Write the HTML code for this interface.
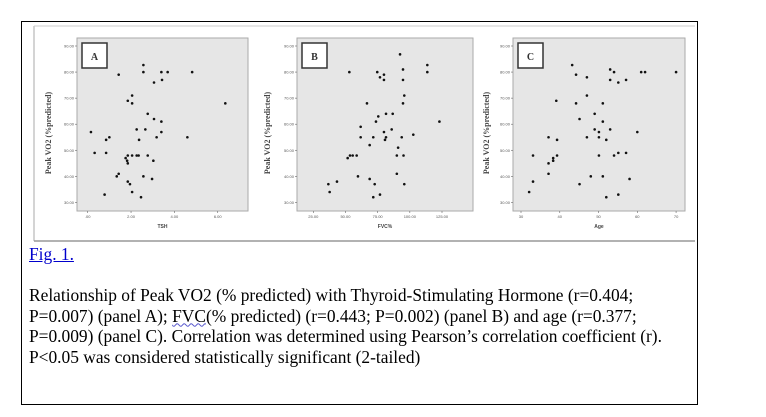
<!DOCTYPE html>
<html><head><meta charset="utf-8"><style>
html,body{margin:0;padding:0;background:#fff;}
body{width:766px;height:417px;position:relative;overflow:hidden;font-family:"Liberation Serif",serif;}
#frame{position:absolute;left:21px;top:21px;width:675px;height:382px;border:1px solid #000;box-sizing:content-box;}
#chart{position:absolute;left:0;top:0;}
.cap{position:absolute;left:29px;font-size:17.4px;line-height:20.5px;color:#000;white-space:nowrap;}
#fig{top:244px;color:#00c;text-decoration:underline;}
#para{top:285px;}
.sq{text-decoration:underline wavy #55c;text-decoration-thickness:1px;}
</style></head><body>
<div id="frame"></div>
<svg id="chart" width="766" height="417">
<line x1="34" y1="26" x2="34" y2="241" stroke="#aaa" stroke-width="1"/>
<line x1="34" y1="26" x2="695" y2="26" stroke="#ccc" stroke-width="1"/>
<line x1="34" y1="241" x2="695" y2="241" stroke="#999" stroke-width="1.5"/>
<g id="panels"></g>
</svg>
<div id="fig" class="cap">Fig. 1.</div>
<div id="para" class="cap">Relationship of Peak VO2 (% predicted) with Thyroid-Stimulating Hormone (r=0.404;<br>P=0.007) (panel A); <span class="sq">FVC</span>(% predicted) (r=0.443; P=0.002) (panel B) and age (r=0.377;<br>P=0.009) (panel C). Correlation was determined using Pearson’s correlation coefficient (r).<br>P&lt;0.05 was considered statistically significant (2-tailed)</div>
<script>
const yTicks=[30,40,50,60,70,80,90];
const yTickLabels=["30.00","40.00","50.00","60.00","70.00","80.00","90.00"];
const aX=[2.57,2.57,1.43,3.4,3.69,4.82,3.06,3.43,2.05,1.85,2.05,6.35,2.77,3.06,3.4,0.15,2.26,2.66,3.4,2.37,3.18,4.6,1.0,0.85,0.32,0.85,1.85,2.05,2.26,2.35,2.77,1.75,1.82,1.85,3.03,1.43,1.34,2.57,2.97,1.85,1.95,2.05,0.78,2.46];
const aY=[82.7,80,79,80,80,80,76,77,71,69,68,68,64,62,61,57,58,58,57,54,55,55,55,54,49,49,48,48,48,48,48,47,46,45,46,41,40,40,39,38,37,34,33,32];
const aXTicks=[0,2,4,6];
const aXTickLabels=[".00","2.00","4.00","6.00"];
const bX=[92.4,113.6,113.6,94.7,53,74.7,79.9,76.8,79.9,94.7,95.7,94.7,66.7,81.5,86.7,75.5,73.7,123,61.8,79.9,85.9,102.7,61.8,71.6,81.5,93.7,80.7,68.8,90.9,51.7,53.5,55.6,58.7,89.9,95.1,59.7,89.9,68.8,43.4,36.7,72.7,95.7,37.7,76.8,71.6];
const bY=[86.8,82.7,80,81,80,80,79,78,77,77,71,68,68,64,64,63,61,61,59,57,58,56,55,55,55,55,54,52,51,47,48,48,48,48,48,40,41,39,38,37,37,37,34,33,32];
const bXTicks=[25,50,75,100,125];
const bXTickLabels=["25.00","50.00","75.00","100.00","125.00"];
const cX=[43.2,44.2,47,53,54,53,55.1,57.1,61,62,70,47,39.1,44.2,51.1,49,45.1,51.1,49,53,50.1,60,37.1,47,50.1,39.3,52,33.1,39.3,50.1,54,55.1,57.1,38.3,38.3,37.1,37.1,48,51.1,58,33.1,45.1,32.1,55.1,52];
const cY=[82.7,79,78,81,80,77,76,77,80,80,80,71,69,68,68,64,62,61,58,58,57,57,55,55,55,54,54,48,48,48,48,49,49,47,46,45,41,40,40,39,38,37,34,33,32];
const cXTicks=[30,40,50,60,70];
const cXTickLabels=["30","40","50","60","70"];

const NS="http://www.w3.org/2000/svg";
const root=document.getElementById('panels');
function mk(tag,attrs,parent){const e=document.createElementNS(NS,tag);for(const k in attrs)e.setAttribute(k,attrs[k]);parent.appendChild(e);return e;}
const yScale=v=>46+(90-v)*2.607;
function panel(id,letter,xs,ys,xt,xtl,xScale,box,xlabel,ylabX){
  const g=mk('g',{},root);
  
  
  const r=mk('rect',{x:box[0],y:38,width:box[1]-box[0],height:173,fill:'#e6e6e6',stroke:'#aaa','stroke-width':1},g);
  
  
  yTicks.forEach((t,i)=>{
    const y=yScale(t);
    mk('line',{x1:box[0]-2,x2:box[0],y1:y,y2:y,stroke:'#666','stroke-width':0.6},g);
    const tx=mk('text',{x:box[0]-3,y:y+1.5,'font-size':4,'text-anchor':'end',fill:'#555','font-family':'Liberation Sans, sans-serif'},g);
    tx.textContent=yTickLabels[i];
    
    
  });
  xt.forEach((t,i)=>{
    const x=xScale(t);
    mk('line',{x1:x,x2:x,y1:211,y2:213,stroke:'#666','stroke-width':0.6},g);
    const tx=mk('text',{x:x,y:218,'font-size':4,'text-anchor':'middle',fill:'#555','font-family':'Liberation Sans, sans-serif'},g);
    tx.textContent=xtl[i];
    
    
  });
  const lb=mk('rect',{x:box[0]+5,y:43,width:25,height:25,fill:'#fff',stroke:'#333','stroke-width':1.5},g);
  
  
  const lt=mk('text',{x:box[0]+17.5,y:60,'font-size':10,'font-weight':'bold','text-anchor':'middle',fill:'#333','font-family':'Liberation Serif, serif'},g);
  lt.textContent=letter;
  
  
  xs.forEach((v,i)=>{
    const c=mk('circle',{cx:xScale(v),cy:yScale(ys[i]),r:1.3,fill:'#111'},g);
    
    
  });
  const xl=mk('text',{x:(box[0]+box[1])/2,y:228,'font-size':5,'text-anchor':'middle',fill:'#444','font-weight':'bold','font-family':'Liberation Sans, sans-serif'},g);
  xl.textContent=xlabel;
  
  
  const yl=mk('text',{x:0,y:0,'font-size':8,'text-anchor':'middle',fill:'#444','font-weight':'bold','font-family':'Liberation Serif, serif',transform:'translate('+ylabX+',133) rotate(-90)'},g);
  yl.textContent='Peak VO2 (%predicted)';
  
  
}
panel('a','A',aX,aY,aXTicks,aXTickLabels,v=>87.7+v*21.67,[77,248],'TSH',51);
panel('b','B',bX,bY,bXTicks,bXTickLabels,v=>313.3+(v-25)*1.287,[297,473],'FVC%',270);
panel('c','C',cX,cY,cXTicks,cXTickLabels,v=>521+(v-30)*3.877,[513,685],'Age',489);
</script>
</body></html>
